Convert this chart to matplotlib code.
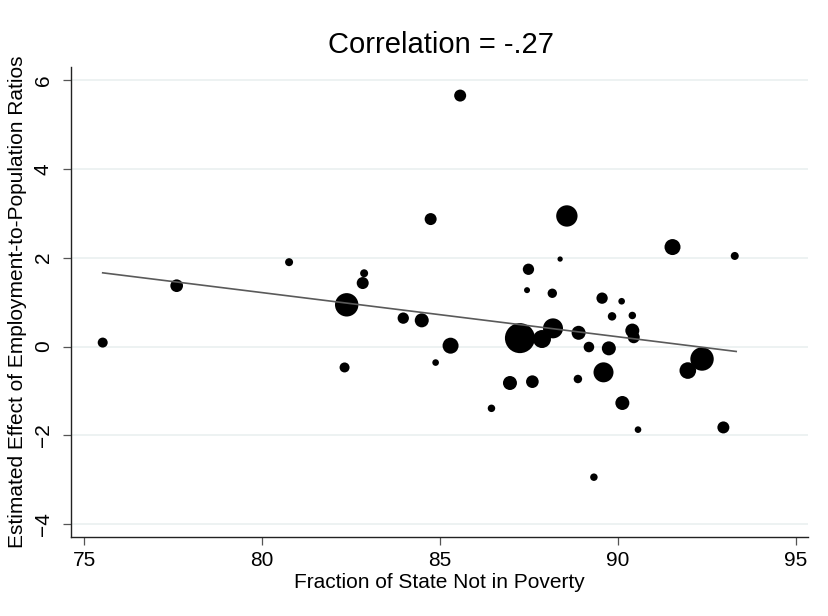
import numpy as np
import matplotlib.pyplot as plt

# share of state population not in poverty (%)
poverty_free = [75.52, 77.60, 80.76, 82.87, 82.83, 82.38, 82.32, 85.57, 84.74, 88.57,
                88.38, 87.49, 87.45, 88.16, 89.56, 90.11, 89.84, 83.97, 84.49, 85.30,
                84.88, 87.25, 87.87, 88.18, 88.90, 89.19, 89.75, 89.60, 88.88, 86.97,
                87.60, 86.45, 90.13, 89.33, 91.54, 93.29, 90.41, 90.41, 90.45, 92.37,
                91.97, 90.57, 92.97]

# estimated effect on employment-to-population ratio
effect = [0.09, 1.37, 1.90, 1.65, 1.43, 0.94, -0.47, 5.65, 2.87, 2.94,
          1.97, 1.74, 1.27, 1.20, 1.09, 1.02, 0.68, 0.64, 0.59, 0.02,
          -0.36, 0.19, 0.17, 0.41, 0.31, -0.01, -0.04, -0.58, -0.73, -0.82,
          -0.79, -1.39, -1.27, -2.94, 2.24, 2.04, 0.70, 0.36, 0.21, -0.28,
          -0.54, -1.87, -1.82]

# state weights (marker area)
weight = [25, 40, 16, 16, 36, 137, 25, 36, 36, 114,
          7, 32, 9, 22, 32, 11, 18, 32, 49, 64,
          11, 225, 81, 100, 49, 28, 49, 100, 18, 49,
          40, 14, 49, 14, 64, 16, 14, 49, 36, 137,
          69, 11, 36]

# weighted fit line endpoints
fit_x = [75.52, 93.33]
fit_y = [1.66, -0.11]

plt.rcParams['font.family'] = ['Liberation Sans', 'DejaVu Sans']

fig = plt.figure(figsize=(8.29, 6.16), dpi=100)
ax = fig.add_axes([0.0857, 0.128, 0.8890, 0.763])

px_to_pt = 0.72
sizes = np.array(weight) * (2 * px_to_pt) ** 2

ax.scatter(poverty_free, effect, s=sizes, color='black', edgecolors='none', zorder=3)
ax.plot(fit_x, fit_y, color='#5a5a5a', lw=1.2, zorder=4)

ax.set_xlim(74.63, 95.35)
ax.set_ylim(-4.29, 6.29)
ax.set_xticks([75, 80, 85, 90, 95])
ax.set_yticks([-4, -2, 0, 2, 4, 6])
ax.yaxis.grid(True, color='#eaf0f0', lw=1.2, zorder=0)
ax.set_axisbelow(True)

for side in ['top', 'right']:
    ax.spines[side].set_visible(False)
for side in ['left', 'bottom']:
    ax.spines[side].set_color('#222222')
    ax.spines[side].set_linewidth(1.0)

ax.tick_params(axis='both', direction='out', length=6, width=0.9, color='#555555',
               labelsize=15, pad=4)
ax.tick_params(axis='y', pad=7)
plt.setp(ax.get_yticklabels(), rotation=90, va='center')

ax.set_xlabel('Fraction of State Not in Poverty', fontsize=15, labelpad=2)
ax.set_ylabel('Estimated Effect of Employment-to-Population Ratios', fontsize=15, labelpad=5)
fig.text(0.532, 0.927, 'Correlation = -.27', ha='center', va='center', fontsize=21)

fig.savefig('out.png', dpi=100)
